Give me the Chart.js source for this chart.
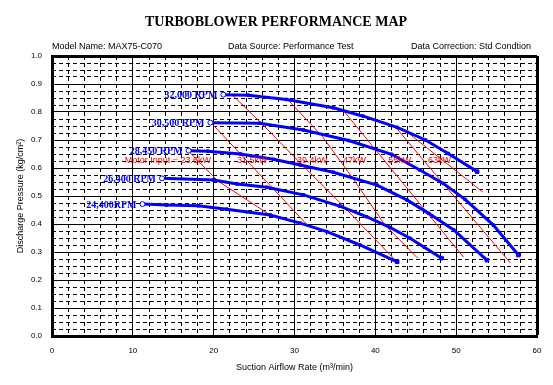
<!DOCTYPE html>
<html><head><meta charset="utf-8">
<script src="https://cdn.jsdelivr.net/npm/chart.js@4.4.1/dist/chart.umd.min.js"></script>
<style>html,body{margin:0;padding:0;background:#fff;}canvas{display:block;}</style>
</head><body>
<canvas id="c" width="553" height="385"></canvas>
<script>
// ---------- data ----------
const chartTitle = 'TURBOBLOWER PERFORMANCE MAP';
const infoTexts = ['Model Name: MAX75-C070', 'Data Source: Performance Test', 'Data Correction: Std Condtion'];
const xAxisTitle = 'Suction Airflow Rate (m\u00B3/min)';
const yAxisTitle = 'Discharge Pressure (kg/cm\u00B2)';
const xTickValues = [0, 10, 20, 30, 40, 50, 60];
const yTickValues = [0.0, 0.1, 0.2, 0.3, 0.4, 0.5, 0.6, 0.7, 0.8, 0.9, 1.0];

const rpmLabels = ['32,000 RPM', '30,500 RPM', '28,450 RPM', '26,400 RPM', '24,400RPM'];
const flow32000 = [21.2, 24.3, 29.0, 34.8, 38.5, 42.7, 46.2, 49.0, 52.6];
const pres32000 = [0.862, 0.860, 0.845, 0.815, 0.785, 0.745, 0.700, 0.652, 0.587];
const flow30500 = [19.6, 25.7, 31.1, 36.7, 42.0, 45.5, 48.4, 51.1, 54.6, 57.7];
const pres30500 = [0.762, 0.760, 0.736, 0.698, 0.649, 0.593, 0.545, 0.488, 0.396, 0.289];
const flow28450 = [16.9, 19.3, 23.3, 27.4, 30.7, 34.8, 40.2, 43.9, 46.6, 49.7, 53.8];
const pres28450 = [0.662, 0.660, 0.650, 0.631, 0.611, 0.585, 0.539, 0.486, 0.438, 0.379, 0.271];
const flow26400 = [13.6, 20.0, 22.9, 26.6, 31.1, 35.6, 38.9, 41.8, 44.3, 48.2];
const pres26400 = [0.563, 0.557, 0.543, 0.531, 0.504, 0.464, 0.426, 0.388, 0.349, 0.278];
const flow24400 = [11.2, 14.2, 18.1, 21.6, 27.0, 30.7, 34.0, 38.1, 42.7];
const pres24400 = [0.471, 0.468, 0.465, 0.453, 0.432, 0.403, 0.373, 0.325, 0.265];

const powerLabels = ['Motor Input = 23.6kW', '31.5kW', '39.4kW', '47kW', '55kW', '63kW'];
const powerLabelFlow = [9.0, 22.9, 30.3, 36.0, 41.6, 46.5];
const powerLabelPres = [0.625, 0.625, 0.625, 0.625, 0.625, 0.625];
const flowP236 = [17.1, 20.5, 27.0];
const presP236 = [0.654, 0.554, 0.432];
const flowP315 = [19.6, 31.6];
const presP315 = [0.764, 0.396];
const flowP394 = [22.3, 26.0, 30.7, 35.9, 42.7];
const presP394 = [0.861, 0.757, 0.618, 0.468, 0.264];
const flowP47 = [29.2, 33.4, 37.1, 41.2, 45.2];
const presP47 = [0.843, 0.714, 0.568, 0.396, 0.279];
const flowP55 = [36.0, 50.9];
const presP55 = [0.807, 0.282];
const flowP63 = [42.5, 56.7];
const presP63 = [0.746, 0.261];
const flowP70 = [43.9, 53.3];
const presP70 = [0.729, 0.514];

// ---------- build ----------
const BLUE = '#0000ff';
const RED = '#ff0000';
const pts = (xs, ys) => xs.map((v, i) => ({x: v, y: ys[i]}));

const curves = [
  [flow32000, pres32000], [flow30500, pres30500], [flow28450, pres28450],
  [flow26400, pres26400], [flow24400, pres24400]
];
const powerLines = [
  [flowP236, presP236], [flowP315, presP315], [flowP394, presP394],
  [flowP47, presP47], [flowP55, presP55], [flowP63, presP63], [flowP70, presP70]
];

const datasets = [];
curves.forEach((c, k) => {
  const n = c[0].length;
  datasets.push({
    label: rpmLabels[k],
    data: pts(c[0], c[1]),
    borderColor: BLUE,
    borderWidth: 3,
    tension: 0,
    pointStyle: ctx => ctx.dataIndex === 0 ? 'circle' : 'rect',
    pointRadius: ctx => ctx.dataIndex === 0 ? 2.5 : (ctx.dataIndex === n - 1 ? 2.5 : 1.8),
    pointBackgroundColor: ctx => ctx.dataIndex === 0 ? '#ffffff' : BLUE,
    pointBorderColor: BLUE,
    pointBorderWidth: 1
  });
});
powerLines.forEach((p, k) => {
  datasets.push({
    label: 'P' + k,
    data: pts(p[0], p[1]),
    borderColor: RED,
    borderWidth: 1,
    tension: 0,
    pointRadius: 0
  });
});

const textPlugin = {
  id: 'texts',
  afterDatasetsDraw(chart) {
    const {ctx, scales: {x, y}} = chart;
    ctx.save();
    ctx.font = 'bold 10px "Liberation Serif"';
    ctx.fillStyle = BLUE;
    ctx.textAlign = 'right';
    ctx.textBaseline = 'middle';
    curves.forEach((c, i) => {
      ctx.fillText(rpmLabels[i], x.getPixelForValue(c[0][0]) - 6, y.getPixelForValue(c[1][0]) + 1);
    });
    ctx.font = '9px "Liberation Sans"';
    ctx.fillStyle = RED;
    ctx.textAlign = 'left';
    powerLabels.forEach((t, i) => {
      ctx.fillText(t, x.getPixelForValue(powerLabelFlow[i]), y.getPixelForValue(powerLabelPres[i]));
    });
    ctx.restore();
  },
  afterDraw(chart) {
    const {ctx} = chart;
    ctx.save();
    ctx.fillStyle = '#000';
    ctx.textBaseline = 'middle';
    ctx.font = 'bold 14px "Liberation Serif"';
    ctx.textAlign = 'center';
    ctx.fillText(chartTitle, 276, 22);
    ctx.font = '9px "Liberation Sans"';
    ctx.textAlign = 'left';
    ctx.fillText(infoTexts[0], 52, 47);
    ctx.fillText(infoTexts[1], 228, 47);
    ctx.textAlign = 'right';
    ctx.fillText(infoTexts[2], 531, 47);
    ctx.restore();
  }
};

const tickFont = {family: 'Liberation Sans', size: 8};
const last = a => a[a.length - 1];

new Chart(document.getElementById('c'), {
  type: 'line',
  data: {datasets},
  options: {
    responsive: false,
    animation: false,
    devicePixelRatio: 1,
    layout: {padding: {left: 0, right: 16, top: 56, bottom: 0}},
    plugins: {legend: {display: false}, tooltip: {enabled: false}, title: {display: false}},
    scales: {
      x2: {
        type: 'linear', position: 'bottom', min: xTickValues[0], max: last(xTickValues),
        ticks: {display: false, stepSize: 2},
        grid: {color: '#000', lineWidth: 1, drawTicks: false},
        border: {display: false, dash: [4, 3]},
        afterFit: s => { s.height = 0; }
      },
      y2: {
        type: 'linear', position: 'left', min: yTickValues[0], max: last(yTickValues),
        ticks: {display: false, stepSize: 0.025},
        grid: {color: '#000', lineWidth: 1, drawTicks: false},
        border: {display: false, dash: [4, 3]},
        afterFit: s => { s.width = 0; }
      },
      x: {
        type: 'linear', position: 'bottom', min: xTickValues[0], max: last(xTickValues),
        ticks: {stepSize: 10, color: '#000', font: tickFont, padding: 10, maxRotation: 0},
        grid: {color: '#000', drawTicks: false,
               lineWidth: ctx => (ctx.tick && ctx.tick.value >= last(xTickValues) - 0.001) ? 3 : 1},
        border: {display: true, color: '#000', width: 3},
        title: {display: true, text: xAxisTitle, color: '#000',
                font: {family: 'Liberation Sans', size: 9}, padding: {top: 0, bottom: 12}},
        afterFit: s => { s.height = 49; }
      },
      y: {
        type: 'linear', position: 'left', min: yTickValues[0], max: last(yTickValues),
        ticks: {stepSize: 0.1, color: '#000', font: tickFont, padding: 10,
                callback: v => Number(v).toFixed(1)},
        grid: {color: '#000', drawTicks: false,
               lineWidth: ctx => (ctx.tick && ctx.tick.value >= last(yTickValues) - 0.001) ? 3 : 1},
        border: {display: true, color: '#000', width: 3},
        title: {display: true, text: yAxisTitle, color: '#000',
                font: {family: 'Liberation Sans', size: 9}, padding: {top: 15, bottom: 0}},
        afterFit: s => { s.width = 52; }
      }
    }
  },
  plugins: [textPlugin]
});
</script>
</body></html>
